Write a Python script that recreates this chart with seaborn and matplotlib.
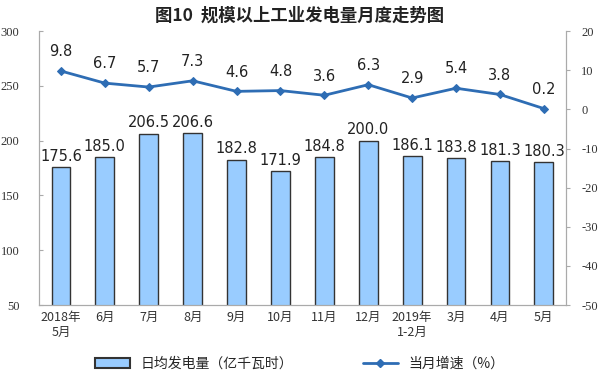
import numpy as np
import pandas as pd
import seaborn as sns
import matplotlib.pyplot as plt
from matplotlib.lines import Line2D
from matplotlib.patches import Patch

# datos
meses = ['2018年\n5月', '6月', '7月', '8月', '9月', '10月', '11月', '12月',
         '2019年\n1-2月', '3月', '4月', '5月']
generacion = [175.6, 185.0, 206.5, 206.6, 182.8, 171.9, 184.8, 200.0, 186.1, 183.8, 181.3, 180.3]
crecimiento = [9.8, 6.7, 5.7, 7.3, 4.6, 4.8, 3.6, 6.3, 2.9, 5.4, 3.8, 0.2]

sns.set_style('white')
plt.rcParams['font.family'] = ['Noto Sans CJK SC', 'DejaVu Sans']
plt.rcParams['axes.unicode_minus'] = False

df = pd.DataFrame({'mes': meses, 'gen': generacion, 'crec': crecimiento})

fig = plt.figure(figsize=(6, 3.79), dpi=100)
ax = fig.add_axes([0.065, 0.195, 0.878, 0.723])

sns.barplot(data=df, x='mes', y='gen', ax=ax, color='#99CCFF', saturation=1,
            edgecolor='#333333', linewidth=1.0, width=0.43)
ax.set_ylim(50, 300)
ax.set_yticks(range(50, 301, 50))
ax.set_xlabel('')
ax.set_ylabel('')
for i, v in enumerate(generacion):
    ax.text(i, v + 3, f'{v:.1f}', ha='center', va='bottom', fontsize=10.5, color='#222222',
            family='DejaVu Sans')

ax2 = ax.twinx()
x = np.arange(len(meses))
sns.lineplot(x=x, y=crecimiento, ax=ax2, color='#2E6DB4', marker='D', markersize=4.5,
             markeredgecolor='#2E6DB4', linewidth=2)
ax2.set_ylim(-50, 20)
ax2.set_yticks(range(-50, 21, 10))
for i, v in enumerate(crecimiento):
    ax2.text(i, v + 3, f'{v:.1f}', ha='center', va='bottom', fontsize=10.5, color='#222222',
             family='DejaVu Sans')

for a in (ax, ax2):
    for s in a.spines.values():
        s.set_color('#aaaaaa')
    a.spines['top'].set_visible(False)
    a.tick_params(axis='y', length=3, color='#aaaaaa', labelsize=9, labelcolor='#333333')
    for lab in a.get_yticklabels():
        lab.set_family('Liberation Serif')
ax.tick_params(axis='y', direction='in', pad=14)
ax2.tick_params(axis='y', direction='out', pad=8)
ax.tick_params(axis='x', length=0, labelsize=9, labelcolor='#333333', pad=4)
ax.set_xticks(x)
ax.set_xticklabels(meses, family=['Noto Sans CJK SC', 'DejaVu Sans'])
ax.set_xlim(-0.5, len(meses) - 0.5)

# puntos entre categorias
ax.set_xticks(np.arange(0.5, len(meses) - 1, 1), minor=True)
ax.tick_params(axis='x', which='minor', length=2, color='#bbbbbb', direction='in')

fig.text(0.5, 0.958, '图10  规模以上工业发电量月度走势图', ha='center', va='center',
         fontsize=12.5, fontweight='bold', color='#222222')

handles = [Patch(facecolor='#99CCFF', edgecolor='#333333', linewidth=1.5),
           Line2D([0], [0], color='#2E6DB4', marker='D', markersize=4, linewidth=2)]
fig.legend(handles, ['日均发电量（亿千瓦时）', '当月增速（%）'], loc='center',
           bbox_to_anchor=(0.5, 0.04), ncol=2, frameon=False, fontsize=10,
           handlelength=2.5, columnspacing=5)

fig.savefig('out.png', dpi=100)
